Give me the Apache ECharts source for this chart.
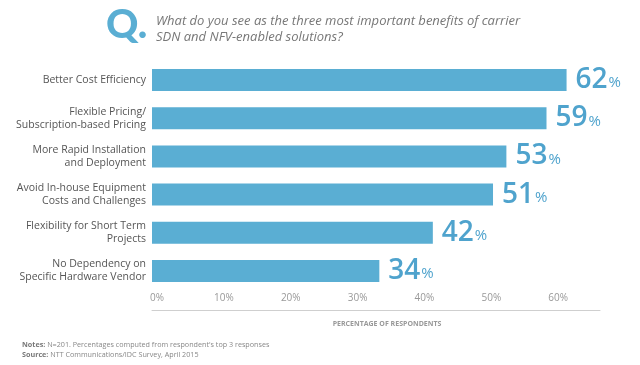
<!DOCTYPE html>
<html><head><meta charset="utf-8">
<script src="https://cdn.jsdelivr.net/npm/echarts@6/dist/echarts.min.js"></script>
<style>html,body{margin:0;padding:0;background:#fff}#c{width:640px;height:365px}</style>
</head><body><div id="c"></div>
<script>
var categories = [
  "Better Cost Efficiency",
  "Flexible Pricing/\nSubscription-based Pricing",
  "More Rapid Installation\nand Deployment",
  "Avoid In-house Equipment\nCosts and Challenges",
  "Flexibility for Short Term\nProjects",
  "No Dependency on\nSpecific Hardware Vendor"
];
var values = [62, 59, 53, 51, 42, 34];
var tickLabels = ["0%","10%","20%","30%","40%","50%","60%"];

var blue = '#5aaed3';
var chart = echarts.init(document.getElementById('c'), null, {renderer:'canvas'});
chart.setOption({
  animation:false,
  title:[
    {text:'Q.', left:101, top:0, textStyle:{fontFamily:'Lato', fontWeight:'900', fontSize:40, color:blue}},
    {text:'What do you see as the three most important benefits of carrier\nSDN and NFV-enabled solutions?', left:151, top:8,
     textStyle:{fontFamily:'Open Sans', fontStyle:'italic', fontWeight:'normal', fontSize:13, lineHeight:16, color:'#777'}},
    {text:'{b|Notes:} N=201. Percentages computed from respondent\'s top 3 responses\n{b|Source:} NTT Communications/IDC Survey, April 2015',
     left:17, top:335,
     textStyle:{fontFamily:'Open Sans', fontWeight:'normal', fontSize:7.2, lineHeight:10, color:'#888',
       rich:{b:{fontFamily:'Open Sans', fontWeight:'bold', fontSize:7.2, color:'#777'}}}}
  ],
  grid:{left:152, right:40, top:61, bottom:75, containLabel:false},
  xAxis:{
    type:'value', min:0, max:67, interval:10, offset:20,
    axisLine:{show:true, lineStyle:{color:'#cfcfcf', width:1}},
    axisTick:{show:false}, splitLine:{show:false},
    axisLabel:{margin:-17, showMaxLabel:false, fontFamily:'Open Sans', fontSize:10, color:'#999', padding:[0,0,0,10],
      formatter:function(v){ return tickLabels[Math.round(v/10)] || ''; }},
    name:'PERCENTAGE OF RESPONDENTS', nameLocation:'middle', nameGap:10,
    nameTextStyle:{fontFamily:'Open Sans', fontWeight:'bold', fontSize:7, color:'#999', padding:[0,0,0,22]}
  },
  yAxis:{
    type:'category', data:categories, inverse:true,
    axisLine:{show:false}, axisTick:{show:false},
    axisLabel:{margin:6, fontFamily:'Open Sans', fontSize:10.5, lineHeight:13, color:'#555', align:'right'}
  },
  series:[{
    type:'bar', data:values, barWidth:22, itemStyle:{color:blue},
    label:{show:true, position:'right', distance:9,
      formatter:function(p){return '{n|'+p.value+'}{p|%}';},
      rich:{n:{fontFamily:'Open Sans', fontWeight:'600', fontSize:28, color:'#4fa3cd'},
            p:{fontFamily:'Open Sans', fontSize:15, color:'#4fa3cd', padding:[6,0,0,1]}}}
  }]
});
</script></body></html>
